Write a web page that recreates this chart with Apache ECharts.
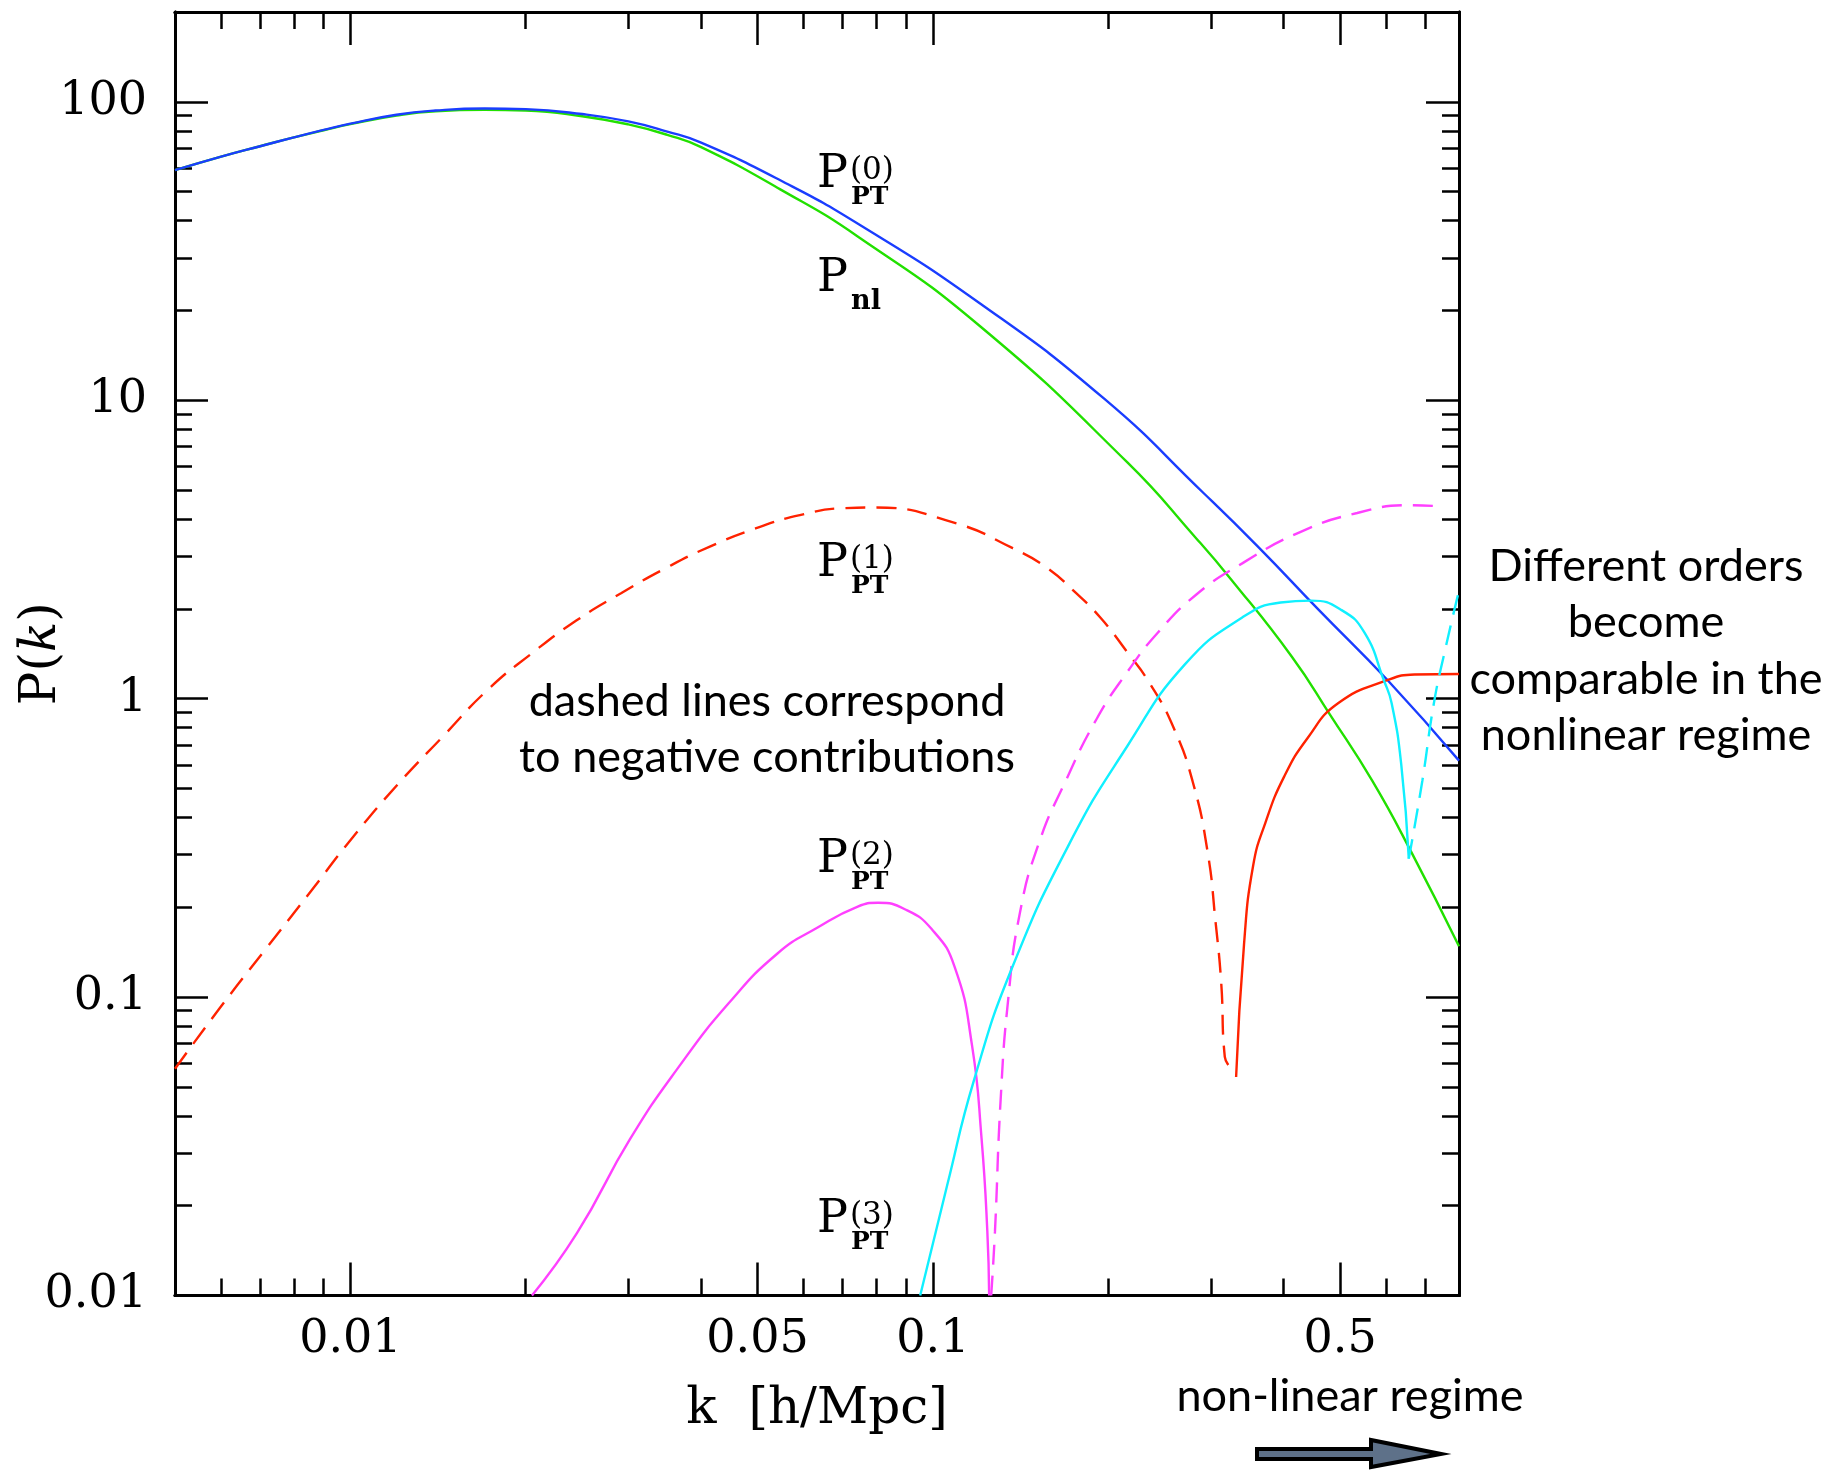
<!DOCTYPE html>
<html>
<head>
<meta charset="utf-8">
<title>P(k)</title>
<script src="https://cdn.jsdelivr.net/npm/echarts@6/dist/echarts.min.js"></script>
<style>
  html, body { margin: 0; padding: 0; background: #fff; }
  #chart { width: 1830px; height: 1470px; }
</style>
</head>
<body>
<div id="chart"></div>
<script>
// values, k in h/Mpc
const kLin = [0.005, 0.006, 0.007, 0.008, 0.009, 0.01, 0.012, 0.014, 0.017, 0.02, 0.025, 0.03, 0.035, 0.04, 0.0547, 0.0746, 0.1205, 0.197, 0.292, 0.361, 0.46, 0.604, 0.8]
const pLin = [59, 65.5, 71, 76, 80.5, 84.5, 90.5, 93.5, 95, 94.5, 91, 86, 79.5, 73, 54.6, 38.9, 21.1, 10.1, 4.87, 3.24, 1.98, 1.15, 0.62]

const kNl = [0.005, 0.006, 0.007, 0.008, 0.009, 0.01, 0.012, 0.014, 0.017, 0.02, 0.025, 0.03, 0.035, 0.04, 0.0547, 0.0746, 0.1205, 0.2157, 0.283, 0.3245, 0.4135, 0.481, 0.568, 0.661, 0.8]
const pNl = [59, 65.5, 71, 76, 80.3, 84.2, 90, 93, 94, 93.5, 89.5, 84, 77.5, 70.5, 50.9, 35.2, 17.7, 6.19, 3.45, 2.52, 1.38, 0.881, 0.53, 0.309, 0.148]

// P(1): negative part (dashed) then positive part
const kP1neg = [0.005, 0.00596, 0.00711, 0.00849, 0.01013, 0.01208, 0.0144, 0.0172, 0.0205, 0.02446, 0.0292, 0.0348, 0.0415, 0.0496, 0.0591, 0.0705, 0.0795, 0.109, 0.1368, 0.1568, 0.1743, 0.1938, 0.2157, 0.236, 0.2585, 0.279, 0.296, 0.3055, 0.3126, 0.317, 0.3236]
const pP1neg = [0.0575, 0.0915, 0.1426, 0.222, 0.346, 0.518, 0.745, 1.07, 1.42, 1.83, 2.26, 2.74, 3.24, 3.72, 4.12, 4.35, 4.37, 3.88, 3.2, 2.75, 2.3, 1.87, 1.43, 1.12, 0.805, 0.53, 0.309, 0.18, 0.111, 0.063, 0.0583]
const kP1pos = [0.3315, 0.342, 0.3545, 0.372, 0.401, 0.4395, 0.496, 0.604, 0.671, 0.8]
const pP1pos = [0.054, 0.15, 0.275, 0.383, 0.549, 0.737, 0.965, 1.155, 1.205, 1.21]

// P(2): positive part then negative part (dashed)
const kP2pos = [0.0205, 0.0245, 0.0302, 0.0367, 0.0446, 0.0541, 0.0634, 0.0743, 0.0805, 0.0895, 0.0995, 0.109, 0.1167, 0.1212, 0.124, 0.1249]
const pP2pos = [0.01, 0.0162, 0.0334, 0.0587, 0.0953, 0.14, 0.171, 0.201, 0.207, 0.197, 0.169, 0.126, 0.069, 0.0336, 0.0164, 0.01]
const kP2neg = [0.1259, 0.1278, 0.1307, 0.1347, 0.141, 0.152, 0.169, 0.191, 0.2157, 0.243, 0.283, 0.3396, 0.426, 0.535, 0.661, 0.752]
const pP2neg = [0.01, 0.0164, 0.0453, 0.0989, 0.191, 0.328, 0.53, 0.855, 1.23, 1.66, 2.23, 2.84, 3.61, 4.19, 4.45, 4.4]

// P(3): positive part then negative part (dashed)
const kP3pos = [0.0951, 0.1058, 0.1176, 0.1368, 0.1717, 0.2157, 0.2705, 0.3396, 0.3953, 0.446, 0.503, 0.551, 0.5946, 0.613, 0.637, 0.656]
const pP3pos = [0.01, 0.0234, 0.0526, 0.1256, 0.328, 0.694, 1.3, 1.87, 2.1, 2.13, 1.98, 1.66, 1.15, 0.965, 0.597, 0.291]
const kP3neg = [0.656, 0.692, 0.7244, 0.758, 0.8]
const pP3neg = [0.291, 0.53, 0.965, 1.47, 2.3]

// axis ticks
const xMajor = [0.01, 0.05, 0.1, 0.5]
const xMinor = [0.006, 0.007, 0.008, 0.009, 0.02, 0.03, 0.04, 0.06, 0.07, 0.08, 0.09, 0.2, 0.3, 0.4, 0.6, 0.7]
const yMajor = [0.01, 0.1, 1, 10, 100]
const yMinor = [0.02, 0.03, 0.04, 0.05, 0.06, 0.07, 0.08, 0.09, 0.2, 0.3, 0.4, 0.5, 0.6, 0.7, 0.8, 0.9, 2, 3, 4, 5, 6, 7, 8, 9, 20, 30, 40, 50, 60, 70, 80, 90]

const L = Math.log10
const serif = 'DejaVu Serif'
const sans = 'Lato'

// the axes are linear in log10 space, labels show the real value
function labelFor(list) {
  return function (v) {
    const hit = list.find(t => Math.abs(L(t) - v) < 1e-6)
    return hit === undefined ? '' : String(hit)
  }
}

function makeAxis(dim, pos, ticks, len, labels) {
  const ax = {
    type: 'value',
    position: pos,
    min: dim === 'x' ? L(0.005) : L(0.01),
    max: dim === 'x' ? L(0.8) : L(200),
    axisLine: { show: true, onZero: false, lineStyle: { color: '#000', width: 3 } },
    axisTick: { show: true, inside: true, length: len, customValues: ticks.map(L), lineStyle: { color: '#000', width: 2.5 } },
    axisLabel: { show: false },
    splitLine: { show: false }
  }
  if (labels) {
    ax.axisLabel = {
      show: true,
      customValues: labels.map(L),
      formatter: labelFor(labels),
      color: '#000',
      fontFamily: serif,
      fontSize: 46,
      margin: dim === 'x' ? 22 : 28
    }
  }
  return ax
}

function toData(ks, ps) {
  return ks.map((k, i) => [L(k), L(ps[i])])
}

function line(name, ks, ps, color, dashed) {
  return {
    name: name,
    type: 'line',
    data: toData(ks, ps),
    showSymbol: false,
    symbol: 'none',
    smooth: 0.5,
    clip: true,
    lineStyle: { color: color, width: 2.4, type: dashed ? [20, 11] : 'solid' }
  }
}

// P with superscript order and PT subscript
function pLabel(x, top, sup, sub) {
  const out = [
    { type: 'text', x: x, y: top + 17, style: { text: 'P', fontFamily: serif, fontSize: 46, fill: '#000', verticalAlign: 'middle' } }
  ]
  if (sup) {
    out.push({ type: 'text', x: x + 33, y: top + 13, style: { text: sup, fontFamily: serif, fontSize: 31, fill: '#000', verticalAlign: 'middle' } })
    out.push({ type: 'text', x: x + 34, y: top + 39, style: { text: sub, fontFamily: serif, fontWeight: 'bold', fontSize: 25, fill: '#000', verticalAlign: 'middle' } })
  } else {
    out.push({ type: 'text', x: x + 34, y: top + 40, style: { text: sub, fontFamily: serif, fontWeight: 'bold', fontSize: 27, fill: '#000', verticalAlign: 'middle' } })
  }
  return out
}

function note(lines, cx, firstMid, step) {
  return lines.map((t, i) => ({
    type: 'text', x: cx, y: firstMid + i * step,
    style: { text: t, fontFamily: sans, fontSize: 45, fill: '#000', align: 'center', verticalAlign: 'middle' }
  }))
}

const chart = echarts.init(document.getElementById('chart'))

const xBottom = makeAxis('x', 'bottom', xMajor, 33, xMajor)
xBottom.name = 'k  [h/Mpc]'
xBottom.nameLocation = 'middle'
xBottom.nameGap = 90
xBottom.nameMoveOverlap = false
xBottom.nameTextStyle = { fontFamily: serif, fontSize: 50, color: '#000' }

const yLeft = makeAxis('y', 'left', yMajor, 33, yMajor)
yLeft.name = '{n|P(}{i|k}{n|)}'
yLeft.nameLocation = 'middle'
yLeft.nameGap = 108
yLeft.nameMoveOverlap = false
yLeft.nameTextStyle = {
  rich: {
    n: { fontFamily: serif, fontSize: 50, color: '#000' },
    i: { fontFamily: serif, fontStyle: 'italic', fontSize: 50, color: '#000' }
  }
}

const option = {
  animation: false,
  backgroundColor: '#fff',
  grid: { left: 175, right: 371, top: 12, bottom: 174.5, outerBoundsMode: 'none' },
  xAxis: [
    xBottom,
    makeAxis('x', 'bottom', xMinor, 17),
    makeAxis('x', 'top', xMajor, 33),
    makeAxis('x', 'top', xMinor, 17)
  ],
  yAxis: [
    yLeft,
    makeAxis('y', 'left', yMinor, 17),
    makeAxis('y', 'right', yMajor, 33),
    makeAxis('y', 'right', yMinor, 17)
  ],
  series: [
    line('P_nl', kNl, pNl, '#22e000'),
    line('P_PT^(0)', kLin, pLin, '#1a3dff'),
    line('P_PT^(1) < 0', kP1neg, pP1neg, '#ff2200', true),
    line('P_PT^(1) > 0', kP1pos, pP1pos, '#ff2200'),
    line('P_PT^(2) > 0', kP2pos, pP2pos, '#ff40ff'),
    line('P_PT^(2) < 0', kP2neg, pP2neg, '#ff40ff', true),
    line('P_PT^(3) > 0', kP3pos, pP3pos, '#10f0ff'),
    line('P_PT^(3) < 0', kP3neg, pP3neg, '#10f0ff', true)
  ],
  graphic: [].concat(
    pLabel(817, 158, '(0)', 'PT'),
    pLabel(817, 262, null, 'nl'),
    pLabel(817, 547, '(1)', 'PT'),
    pLabel(817, 843, '(2)', 'PT'),
    pLabel(817, 1203, '(3)', 'PT'),
    note(['dashed lines correspond', 'to negative contributions'], 767, 701, 56),
    note(['Different orders', 'become', 'comparable in the', 'nonlinear regime'], 1646, 566, 56.6),
    note(['non-linear regime'], 1350, 1396, 0),
    [{
      type: 'polygon',
      shape: { points: [[1257, 1449], [1371, 1449], [1371, 1440], [1441, 1454], [1371, 1467], [1371, 1459], [1257, 1459]] },
      style: { fill: '#5e7189', stroke: '#000', lineWidth: 4, lineJoin: 'miter' }
    }]
  )
}

chart.setOption(option)
</script>
</body>
</html>
